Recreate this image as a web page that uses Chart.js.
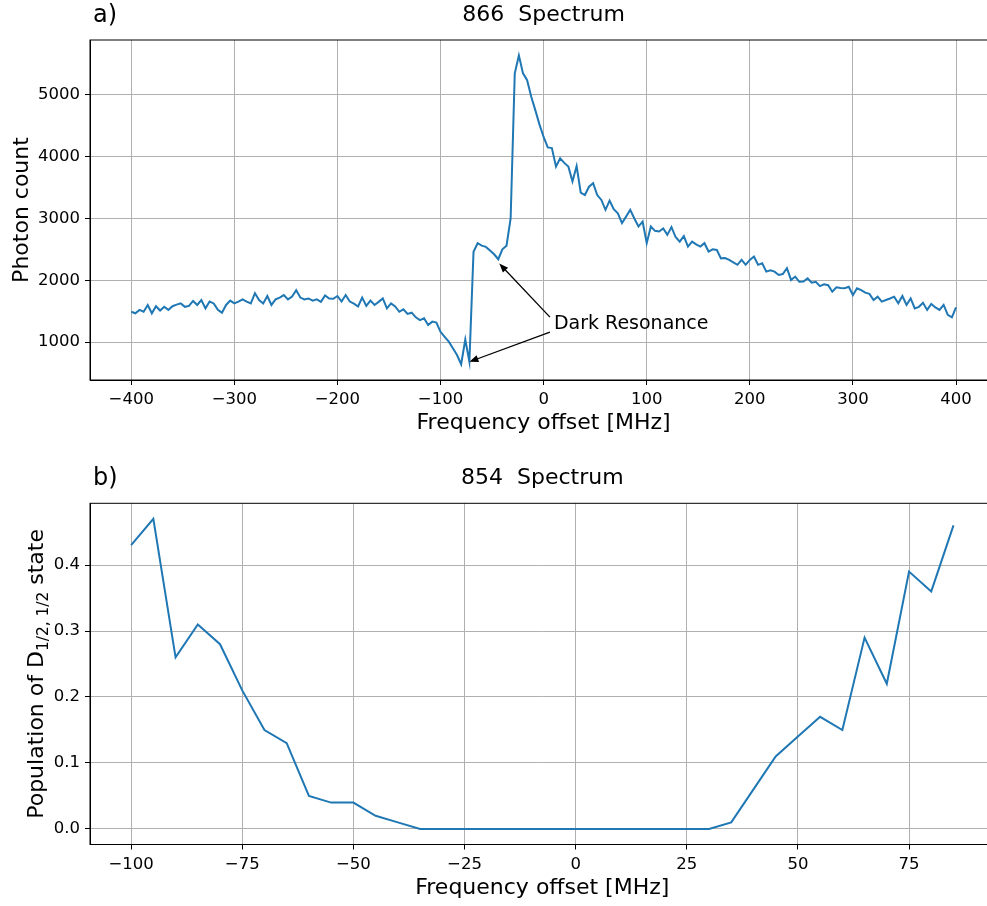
<!DOCTYPE html>
<html>
<head>
<meta charset="utf-8">
<script src="https://cdn.jsdelivr.net/npm/chart.js@4.4.0/dist/chart.umd.min.js"></script>
<style>
html, body { margin: 0; padding: 0; background: #fff; overflow: hidden; }
body { width: 987px; height: 906px; position: relative; }
canvas { position: absolute; left: 0; }
#top { top: 0; }
#bottom { top: 450px; }
</style>
</head>
<body>
<canvas id="top" width="1010" height="450"></canvas>
<canvas id="bottom" width="1010" height="456"></canvas>
<script>
// ---- 866 spectrum ----
const freq866 = [
  -400,-396,-392,-388,-384,-380,-376,-372,-368,-364,
  -360,-356,-352,-348,-344,-340,-336,-332,-328,-324,
  -320,-316,-312,-308,-304,-300,-296,-292,-288,-284,
  -280,-276,-272,-268,-264,-260,-256,-252,-248,-244,
  -240,-236,-232,-228,-224,-220,-216,-212,-208,-204,
  -200,-196,-192,-188,-184,-180,-176,-172,-168,-164,
  -160,-156,-152,-148,-144,-140,-136,-132,-128,-124,
  -120,-116,-112,-108,-104,-100,-96,-92,-88,-84,
  -80,-76,-72,-68,-64,-60,-56,-52,-48,-44,
  -40,-36,-32,-28,-24,-20,-16,-12,-8,-4,
  0,4,8,12,16,20,24,28,32,36,
  40,44,48,52,56,60,64,68,72,76,
  80,84,88,92,96,100,104,108,112,116,
  120,124,128,132,136,140,144,148,152,156,
  160,164,168,172,176,180,184,188,192,196,
  200,204,208,212,216,220,224,228,232,236,
  240,244,248,252,256,260,264,268,272,276,
  280,284,288,292,296,300,304,308,312,316,
  320,324,328,332,336,340,344,348,352,356,
  360,364,368,372,376,380,384,388,392,396,
  400
];
const counts866 = [
  1490,1465,1520,1490,1600,1465,1580,1510,1570,1520,
  1580,1605,1625,1570,1585,1665,1600,1680,1545,1655,
  1625,1520,1475,1600,1670,1625,1655,1690,1655,1625,
  1790,1680,1625,1745,1600,1690,1720,1760,1690,1735,
  1840,1720,1690,1705,1670,1690,1650,1755,1705,1700,
  1745,1655,1760,1655,1620,1575,1720,1585,1670,1600,
  1650,1705,1545,1625,1575,1490,1530,1455,1475,1400,
  1355,1385,1275,1330,1315,1165,1085,1005,900,790,
  640,1040,680,2460,2600,2560,2540,2480,2420,2340,
  2500,2560,3000,5350,5640,5350,5240,4970,4750,4520,
  4320,4150,4140,3840,3975,3900,3840,3600,3850,3420,
  3380,3515,3570,3380,3300,3140,3290,3150,3085,2925,
  3030,3140,3000,2870,2950,2600,2870,2800,2790,2840,
  2735,2860,2700,2625,2715,2545,2625,2580,2545,2600,
  2465,2500,2490,2355,2360,2330,2290,2250,2330,2250,
  2330,2385,2250,2275,2140,2160,2140,2085,2100,2195,
  2005,2060,1975,1980,2030,1960,1975,1905,1935,1920,
  1815,1885,1875,1870,1895,1760,1870,1840,1800,1780,
  1680,1735,1655,1680,1705,1734,1626,1745,1600,1705,
  1545,1570,1635,1520,1615,1560,1520,1600,1440,1400,
  1560
];
const ticks866X = [-400, -300, -200, -100, 0, 100, 200, 300, 400];
const ticks866Y = [1000, 2000, 3000, 4000, 5000];

// ---- 854 spectrum ----
const freq854 = [
  -100,-95,-90,-85,-80,-75,-70,-65,-60,-55,-50,-45,-40,-35,-30,-25,-20,-15,-10,
  -5,0,5,10,15,20,25,30,35,40,45,50,55,60,65,70,75,80,85
];
const pop854 = [
  0.43,0.47,0.26,0.31,0.28,0.21,0.15,0.13,0.05,0.04,0.04,0.02,0.01,0.00,0.00,0.00,0.00,0.00,0.00,
  0.00,0.00,0.00,0.00,0.00,0.00,0.00,0.00,0.01,0.06,0.11,0.14,0.17,0.15,0.29,0.22,0.39,0.36,0.46
];
const ticks854X = [-100, -75, -50, -25, 0, 25, 50, 75];
const ticks854Y = [0.0, 0.1, 0.2, 0.3, 0.4];

// annotation of the top panel
const annLabel = 'Dark Resonance';
const annTextAt = [10, 1290];
const annPoints = [[-43, 2270], [-72, 680]];

const LINE = '#1f77b4';
const GRID = '#b0b0b0';
const FONT = "'DejaVu Sans', sans-serif";

Chart.defaults.font.family = FONT;
Chart.defaults.color = '#000';

const minusFmt = v => String(v).replace('-', '\u2212');

//////////////////////////////////////////////
// texts, frame and arrows drawn on top
//////////////////////////////////////////////
function decoPlugin(d) {
    return {
        id: 'deco',
        afterDraw(chart) {
            const ctx = chart.ctx;
            const a = chart.chartArea;
            const cx = (a.left + a.right) / 2;
            ctx.save();
            // frame
            ctx.strokeStyle = '#000';
            ctx.lineWidth = 1;
            ctx.strokeRect(a.left, a.top, a.right - a.left, a.bottom - a.top);

            ctx.fillStyle = '#000';
            ctx.textBaseline = 'alphabetic';
            // panel letter
            ctx.font = '24px ' + FONT;
            ctx.textAlign = 'left';
            ctx.fillText(d.letter, 93, a.top - 18);
            // title
            ctx.font = '22px ' + FONT;
            ctx.textAlign = 'center';
            ctx.fillText(d.title, cx, a.top - 19);
            // x label
            ctx.fillText('Frequency offset [MHz]', cx, a.bottom + 49);

            // y label, rotated, may hold a subscript part
            ctx.save();
            ctx.translate(d.yLabelX, (a.top + a.bottom) / 2);
            ctx.rotate(-Math.PI / 2);
            ctx.textAlign = 'left';
            let total = 0;
            d.yLabel.forEach(p => {
                ctx.font = p.size + 'px ' + FONT;
                p.w = ctx.measureText(p.t).width;
                total += p.w;
            });
            let x = -total / 2;
            d.yLabel.forEach(p => {
                ctx.font = p.size + 'px ' + FONT;
                ctx.fillText(p.t, x, p.dy || 0);
                x += p.w;
            });
            ctx.restore();

            if (d.annotate) {
                const xs = chart.scales.x, ys = chart.scales.y;
                const tx = xs.getPixelForValue(annTextAt[0]);
                const ty = ys.getPixelForValue(annTextAt[1]);
                ctx.font = '19px ' + FONT;
                ctx.textAlign = 'left';
                ctx.textBaseline = 'middle';
                ctx.fillText(annLabel, tx, ty);
                const starts = [[tx - 4, ty - 7], [tx - 4, ty + 8]];
                annPoints.forEach((pt, i) => {
                    const px = xs.getPixelForValue(pt[0]);
                    const py = ys.getPixelForValue(pt[1]);
                    const sx = starts[i][0], sy = starts[i][1];
                    const ang = Math.atan2(py - sy, px - sx);
                    ctx.lineWidth = 1.3;
                    ctx.beginPath();
                    ctx.moveTo(sx, sy);
                    ctx.lineTo(px - Math.cos(ang) * 3, py - Math.sin(ang) * 3);
                    ctx.stroke();
                    const hl = 9, hw = 3.6;
                    ctx.beginPath();
                    ctx.moveTo(px, py);
                    ctx.lineTo(px - hl * Math.cos(ang) + hw * Math.sin(ang), py - hl * Math.sin(ang) - hw * Math.cos(ang));
                    ctx.lineTo(px - hl * Math.cos(ang) - hw * Math.sin(ang), py - hl * Math.sin(ang) + hw * Math.cos(ang));
                    ctx.closePath();
                    ctx.fill();
                });
            }
            ctx.restore();
        }
    };
}

function axis(min, max, tickVals, fmt, fitFn) {
    return {
        type: 'linear',
        min: min,
        max: max,
        afterFit: fitFn,
        afterBuildTicks: s => { s.ticks = tickVals.map(v => ({ value: v })); },
        ticks: {
            autoSkip: false,
            maxRotation: 0,
            padding: 5,
            color: '#000',
            font: { size: 16.5 },
            callback: fmt
        },
        grid: { color: GRID, lineWidth: 1, tickLength: 5, tickColor: '#000', tickWidth: 1 },
        border: { display: true, color: '#000', width: 1 }
    };
}

function makeChart(id, xs, ys, o) {
    const ctx = document.getElementById(id).getContext('2d');
    return new Chart(ctx, {
        type: 'line',
        data: {
            datasets: [{
                data: xs.map((x, i) => ({ x: x, y: ys[i] })),
                borderColor: LINE,
                borderWidth: 2,
                pointRadius: 0,
                tension: 0,
                fill: false
            }]
        },
        options: {
            responsive: false,
            devicePixelRatio: 1,
            animation: false,
            layout: { padding: o.padding },
            scales: {
                x: axis(o.xMin, o.xMax, o.xTicks, minusFmt, s => { s.height = o.xAxisH; }),
                y: axis(o.yMin, o.yMax, o.yTicks, o.yFmt, s => { s.width = 90; })
            },
            plugins: {
                legend: { display: false },
                tooltip: { enabled: false }
            }
        },
        plugins: [decoPlugin(o.deco)]
    });
}

makeChart('top', freq866, counts866, {
    padding: { left: 0, top: 40, right: 12.75, bottom: 0 },
    xAxisH: 70,
    xMin: -440, xMax: 440, xTicks: ticks866X,
    yMin: 385, yMax: 5890, yTicks: ticks866Y,
    yFmt: v => String(v),
    deco: {
        letter: 'a)',
        title: '866  Spectrum',
        yLabelX: 28,
        yLabel: [{ t: 'Photon count', size: 22 }],
        annotate: true
    }
});

makeChart('bottom', freq854, pop854, {
    padding: { left: 0, top: 53.3, right: 15.4, bottom: 0 },
    xAxisH: 61.5,
    xMin: -109.25, xMax: 94.25, xTicks: ticks854X,
    yMin: -0.0235, yMax: 0.4935, yTicks: ticks854Y,
    yFmt: v => v.toFixed(1),
    deco: {
        letter: 'b)',
        title: '854  Spectrum',
        yLabelX: 43,
        yLabel: [
            { t: 'Population of D', size: 22 },
            { t: '1/2, 1/2', size: 15.4, dy: 5 },
            { t: ' state', size: 22 }
        ],
        annotate: false
    }
});
</script>
</body>
</html>
